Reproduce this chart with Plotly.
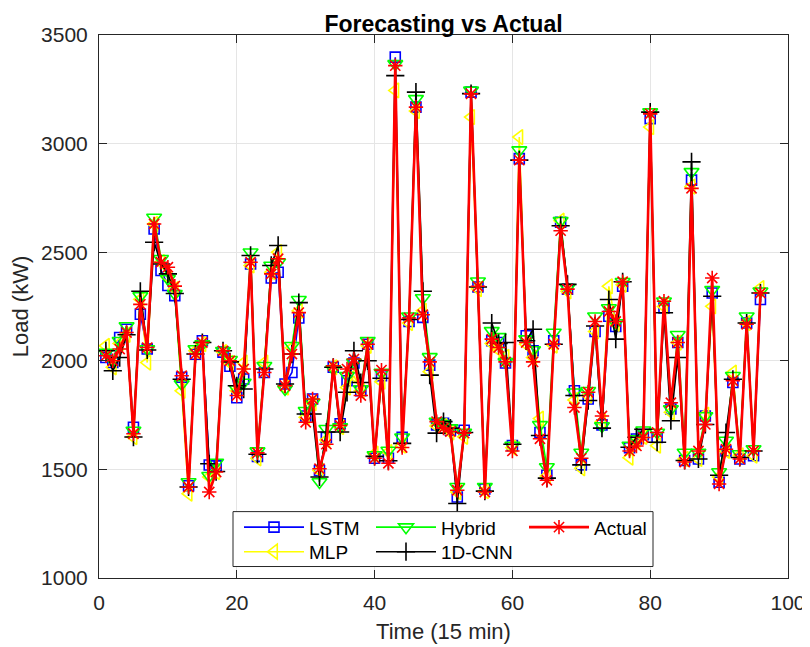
import plotly.graph_objects as go

time = list(range(1, 97))

actual = [2023, 2000, 2054, 2130, 1664, 2260, 2061, 2630, 2454, 2431, 2344, 1931, 1419, 2031, 2084, 1396, 1488, 2046, 2000, 1840,
          1962, 2454, 1576, 1946, 2400, 2470, 1885, 2031, 2222, 1717, 1824, 1503, 1616, 1977, 1702, 1962, 2008, 1840, 2076, 1551,
          1957, 1528, 3359, 1601, 2197, 3168, 2212, 1995, 1720, 1690, 1674, 1404, 1667, 3229, 2343, 1396, 2100, 2061, 1995, 1585,
          2924, 2084, 1995, 1641, 1450, 2076, 2599, 2330, 1785, 1551, 1855, 2181, 1746, 2227, 2181, 2364, 1585, 1608, 1647, 3137,
          1670, 2274, 1807, 2084, 1534, 2794, 1585, 1707, 2381, 1433, 1593, 1908, 1548, 2168, 1585, 2312]

lstm = [2015, 1992, 2107, 2145, 1694, 2214, 2054, 2607, 2416, 2347, 2300, 1924, 1425, 2030, 2092, 1520, 1516, 2040, 1975, 1830,
        1916, 2446, 1560, 1946, 2381, 2408, 1893, 1946, 2197, 1746, 1824, 1495, 1647, 1970, 1710, 1908, 1990, 1862, 2076, 1551,
        1931, 1551, 3398, 1648, 2181, 3168, 2200, 1980, 1705, 1712, 1680, 1373, 1680, 3237, 2340, 1410, 2092, 2084, 1990, 1610,
        2931, 2115, 2046, 1670, 1473, 2092, 2638, 2330, 1862, 1521, 1824, 2135, 1705, 2205, 2158, 2343, 1600, 1640, 1660, 3115,
        1647, 2243, 1778, 2084, 1541, 2832, 1548, 1746, 2312, 1441, 1585, 1900, 1548, 2174, 1563, 2282]

mlp = [2069, 1970, 2080, 2120, 1649, 2283, 1992, 2630, 2454, 2385, 2330, 1862, 1388, 2046, 2077, 1465, 1488, 2040, 1990, 1862,
       1992, 2439, 1551, 1992, 2408, 2500, 1877, 2060, 2230, 1740, 1805, 1495, 1635, 1970, 1695, 1877, 1931, 1862, 2069, 1572,
       1904, 1580, 3245, 1610, 2174, 3150, 2230, 1950, 1700, 1700, 1670, 1396, 1650, 3122, 2330, 1400, 2080, 2050, 2018, 1600,
       3030, 2076, 2015, 1734, 1470, 2070, 2645, 2320, 1820, 1505, 1840, 2135, 1720, 2343, 2170, 2350, 1554, 1625, 1650, 3076,
       1609, 2250, 1763, 2084, 1548, 2802, 1548, 1752, 2251, 1465, 1585, 1946, 1565, 2174, 1563, 2335]

hybrid = [2038, 2000, 2092, 2160, 1679, 2298, 2054, 2660, 2470, 2378, 2309, 1893, 1442, 2054, 2077, 1471, 1532, 2046, 2005, 1870,
          1900, 2500, 1584, 1977, 2439, 2454, 1870, 2069, 2281, 1770, 1808, 1442, 1687, 1962, 1695, 1931, 1992, 1870, 2092, 1566,
          1946, 1587, 3367, 1648, 2205, 3206, 2289, 2018, 1720, 1710, 1690, 1420, 1670, 3245, 2366, 1420, 2138, 2110, 1995, 1610,
          2970, 2100, 2050, 1705, 1511, 2130, 2645, 2336, 1855, 1578, 1862, 2205, 1700, 2243, 2174, 2364, 1610, 1640, 1680, 3145,
          1670, 2274, 1778, 2120, 1578, 2870, 1578, 1746, 2327, 1488, 1633, 1931, 1571, 2205, 1594, 2320]

cnn = [2046, 1954, 2015, 2120, 1649, 2320, 2050, 2546, 2446, 2400, 2310, 1915, 1419, 2031, 2084, 1526, 1490, 2046, 1995, 1885,
       1870, 2485, 1570, 1962, 2439, 2531, 1893, 2031, 2268, 1755, 1755, 1465, 1672, 1970, 1672, 1855, 2046, 1900, 2000, 1560,
       1920, 1540, 3313, 1620, 2190, 3237, 2320, 1934, 1667, 1720, 1690, 1343, 1670, 3230, 2340, 1400, 2174, 2080, 2084, 1616,
       2924, 2092, 2145, 1656, 1460, 2076, 2622, 2352, 1840, 1521, 1817, 2160, 1690, 2282, 2100, 2364, 1602, 1648, 1685, 3145,
       1625, 2221, 1724, 2015, 1541, 2916, 1548, 1707, 2297, 1473, 1670, 1915, 1555, 2174, 1585, 2312]

x_ticks = [0, 20, 40, 60, 80, 100]
y_ticks = [1000, 1500, 2000, 2500, 3000, 3500]

FONT = "Liberation Sans, Arial, Helvetica, sans-serif"
AX = "#262626"

# (name, values, colour, symbol, marker size, line width, legend id)
series = [
    ("LSTM", lstm, "#0000FF", "square-open", 10, 1.6, "legend"),
    ("MLP", mlp, "#FFFF00", "triangle-left-open", 13, 1.6, "legend4"),
    ("Hybrid", hybrid, "#00FF00", "triangle-down-open", 13, 1.6, "legend2"),
    ("1D-CNN", cnn, "#000000", "cross-thin-open", 13, 1.6, "legend5"),
    ("Actual", actual, "#FF0000", "asterisk-open", 12, 2.6, "legend3"),
]

fig = go.Figure()
for name, vals, color, sym, size, lw, leg in series:
    fig.add_trace(go.Scatter(
        x=time, y=vals, name=name, mode="lines+markers",
        line=dict(color=color, width=lw),
        marker=dict(symbol=sym, size=size, color=color, line=dict(color=color, width=1.6)),
        legend=leg, showlegend=True,
    ))

axis_common = dict(
    showgrid=True, gridcolor="#e5e5e5", gridwidth=1,
    showline=True, linecolor=AX, linewidth=1, mirror="ticks",
    ticks="inside", ticklen=8, tickcolor=AX,
    tickfont=dict(family=FONT, size=21, color=AX),
    zeroline=False, automargin=False,
)

PLOT_L, PLOT_R, PLOT_T, PLOT_B = 91, 780, 26.5, 570.5
W, H = 802, 639


def px_x(p):
    return (p - PLOT_L) / (PLOT_R - PLOT_L)


def px_y(p):
    return (PLOT_B - p) / (PLOT_B - PLOT_T)


def leg(xp, yp):
    return dict(orientation="v", x=px_x(xp), xanchor="left", y=px_y(yp), yanchor="middle",
                itemwidth=60, bgcolor="rgba(0,0,0,0)", borderwidth=0,
                font=dict(family=FONT, size=19, color="black"), itemsizing="trace")


row1, row2 = 519.7, 544.3
col1, col2, col3 = 231, 363, 516

fig.update_layout(
    width=W, height=H, showlegend=True,
    margin=dict(l=PLOT_L, r=W - PLOT_R, t=PLOT_T, b=H - PLOT_B, autoexpand=False),
    paper_bgcolor="white", plot_bgcolor="white",
    title=dict(text="<b>Forecasting vs Actual</b>", x=0.5, xref="paper", xanchor="center",
               y=1, yref="paper", yanchor="bottom", pad=dict(b=3),
               font=dict(family=FONT, size=23, color="black")),
    xaxis=dict(range=[0, 100], tickvals=x_ticks, ticktext=[str(v) for v in x_ticks],
               ticklabelstandoff=6,
               title=dict(text="Time (15 min)", font=dict(family=FONT, size=22, color=AX), standoff=10),
               **axis_common),
    yaxis=dict(range=[1000, 3500], tickvals=y_ticks, ticktext=[str(v) for v in y_ticks],
               ticklabelstandoff=6,
               title=dict(text="Load (kW)", font=dict(family=FONT, size=22, color=AX), standoff=10),
               **axis_common),
    legend=leg(col1, row1),
    legend2=leg(col2, row1),
    legend3=leg(col3, row1),
    legend4=leg(col1, row2),
    legend5=leg(col2, row2),
    shapes=[dict(type="rect", xref="paper", yref="paper",
                 x0=px_x(225), x1=px_x(645), y0=px_y(559), y1=px_y(504),
                 line=dict(color=AX, width=1), fillcolor="white", layer="above")],
)

fig.write_html("out.html")
